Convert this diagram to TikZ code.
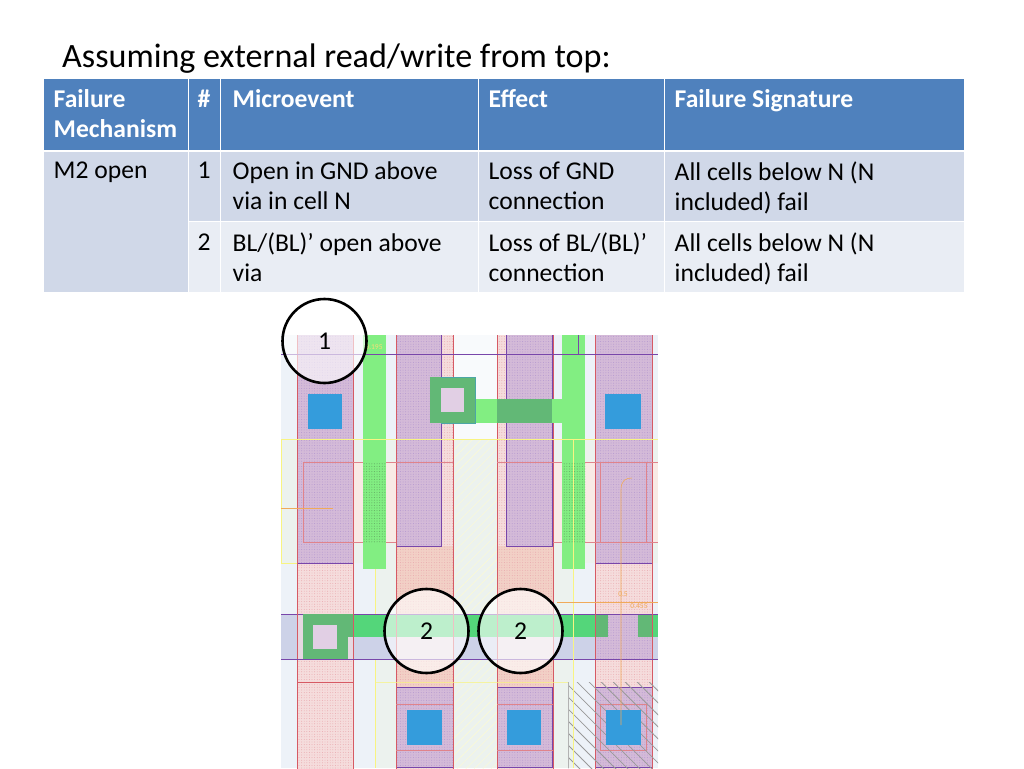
\documentclass[tikz,border=0pt]{standalone}
\usepackage{fontspec}
\setmainfont{Carlito}
\usepackage{xcolor}
\definecolor{tblhead}{RGB}{79, 129, 189}
\definecolor{tblodd}{RGB}{208, 216, 232}
\definecolor{tbleven}{RGB}{233, 237, 244}
\definecolor{cellbg}{RGB}{237, 242, 248}
\definecolor{wellbg}{RGB}{236, 242, 238}
\definecolor{metalpurple}{RGB}{212, 186, 216}
\definecolor{polypink}{RGB}{245, 220, 220}
\definecolor{activeorange}{RGB}{242, 208, 198}
\definecolor{bandblue}{RGB}{205, 210, 232}
\definecolor{wiregreen}{RGB}{130, 238, 130}
\definecolor{bandgreen}{RGB}{84, 214, 122}
\definecolor{viagreen}{RGB}{98, 184, 118}
\definecolor{contactblue}{RGB}{52, 156, 220}
\definecolor{edgered}{RGB}{214, 90, 100}
\definecolor{edgepurple}{RGB}{120, 70, 170}
\definecolor{dimorange}{RGB}{240, 170, 90}
\definecolor{marklemon}{RGB}{248, 244, 130}
\usepackage{tikz}
\usetikzlibrary{
    patterns.meta,
    positioning
}

\begin{document}
\begin{tikzpicture}[
    x=1pt, y=-1pt,
    cellbox/.style={
        rectangle, draw=white, line width=1.2pt, inner sep=0pt,
        anchor=north west
    },
    headbox/.style={cellbox, fill=tblhead},
    oddbox/.style={cellbox, fill=tblodd},
    evenbox/.style={cellbox, fill=tbleven},
    cellpad/.style={anchor=north west, inner sep=0pt, align=left,
        font=\fontsize{25.6}{30}\selectfont, execute at begin node=\strut},
    headpad/.style={cellpad, text=white, font=\fontsize{25.6}{30}\selectfont\bfseries},
    marker/.style={circle, draw=black, line width=2.6pt, fill=white, fill opacity=0.62,
        text opacity=1, minimum size=84pt, inner sep=0pt, font=\fontsize{25.6}{30}\selectfont},
    metaldots/.style={pattern={Dots[distance=2.6pt,radius=0.5pt]}, pattern color=edgepurple!55},
    polydots/.style={pattern={Dots[distance=2.6pt,radius=0.45pt]}, pattern color=edgered!55},
    wiredots/.style={pattern={Dots[distance=2.6pt,radius=0.55pt]}, pattern color=green!50!black!60},
    contact/.style={fill=contactblue},
    wire/.style={fill=wiregreen},
    viabox/.style={fill=viagreen},
    viahole/.style={fill=metalpurple!70!white},
    thinred/.style={draw=edgered!75, line width=0.5pt},
    dimline/.style={draw=dimorange, line width=0.6pt},
    lemon/.style={draw=marklemon, line width=0.7pt},
    dimtext/.style={inner sep=0pt, text=dimorange, font=\fontsize{7.5}{8}\selectfont}
]
    \useasboundingbox (0,0) rectangle (1024,768);
    \fill[white] (0,0) rectangle (1024,768);

    % Title
    \node[anchor=base west, inner sep=0pt, font=\fontsize{34.1}{40}\selectfont] (title) at (62,67) {Assuming external read/write from top:};

    % Table
    \foreach \x/\w/\n in {43/144.5/mech,187.5/32.5/num,220/257.5/micro,477.5/186.5/effect,664/300/sign} {
        \node[headbox, minimum width=\w pt, minimum height=71.5pt] (head\n) at (\x,78) {};
    }
    \node[oddbox, minimum width=144.5pt, minimum height=142pt] (mech) at (43,150) {};
    \foreach \x/\w/\n in {187.5/32.5/num,220/257.5/micro,477.5/186.5/effect,664/300/sign} {
        \node[oddbox, minimum width=\w pt, minimum height=71pt] (odd\n) at (\x,150) {};
        \node[evenbox, minimum width=\w pt, minimum height=71pt] (even\n) at (\x,221) {};
    }
    \draw[white, line width=2pt] (headmech.south west) -- (headsign.south east);
    \node[headpad] at (53.5,89.6) {Failure\\Mechanism};
    \node[headpad] at (197.5,86.6) {\#};
    \node[headpad] at (232.5,86.6) {Microevent};
    \node[headpad] at (488.5,86.6) {Effect};
    \node[headpad] at (674.5,86.6) {Failure Signature};

    \node[cellpad] at (53.5,157.6) {M2 open};
    \node[cellpad] at (197.5,157.6) {1};
    \node[cellpad] at (232.5,161.6) {Open in GND above\\via in cell N};
    \node[cellpad] at (488.5,161.6) {Loss of GND\\connection};
    \node[cellpad] at (674.5,161.6) {All cells below N (N\\included) fail};
    \node[cellpad] at (197.5,229.6) {2};
    \node[cellpad] at (232.5,232.6) {BL/(BL)’ open above\\via};
    \node[cellpad] at (488.5,232.6) {Loss of BL/(BL)’\\connection};
    \node[cellpad] at (674.5,232.6) {All cells below N (N\\included) fail};

    % Layout
    \begin{scope}
    \clip (281,335) rectangle (658,768);

    % Background
    \fill[cellbg] (281,335) rectangle (658,768);
    \fill[wellbg] (281,439) rectangle (658,563);
    \fill[wellbg] (375,563) rectangle (573,768);
    \fill[pattern={Lines[angle=45,distance=6pt,line width=0.4pt]}, pattern color=marklemon!35] (453,439) rectangle (497,768);
    \fill[white!60!cellbg] (453,335) rectangle (497,439);
    \fill[activeorange!45!white] (353,462) rectangle (396,542);
    \fill[activeorange!45!white] (553,462) rectangle (658,542);
    \draw[lemon] (281,439) -- (281,563) -- (297,563);
    \draw[lemon] (375,569) -- (375,768);

    % Poly columns
    \foreach \xa/\xb in {297/353,396/453,497/553,595/652} {
        \fill[polypink] (\xa,330) rectangle (\xb,770);
        \fill[polydots] (\xa,330) rectangle (\xb,770);
    }
    \fill[activeorange] (396,546) rectangle (453,687);
    \fill[activeorange] (497,546) rectangle (553,687);
    \fill[polydots] (396,546) rectangle (453,687);
    \fill[polydots] (497,546) rectangle (553,687);

    % Metal columns
    \foreach \xa/\xb/\ya/\yb in {297/353/330/563,396/441/330/546,506/552/330/546,595/652/330/563,396/453/687/767,497/552/687/767,595/652/687/767} {
        \fill[metalpurple] (\xa,\ya) rectangle (\xb,\yb);
        \fill[metaldots] (\xa,\ya) rectangle (\xb,\yb);
        \draw[edgepurple, line width=0.5pt] (\xa,\ya) rectangle (\xb,\yb);
    }
    \foreach \xa/\xb in {297/353,396/453,497/553,595/652} {
        \draw[edgered, line width=0.7pt] (\xa,330) -- (\xa,770) (\xb,330) -- (\xb,770);
    }
    \draw[edgered, line width=0.7pt] (297,682) -- (353,682);
    \draw[thinred] (453,462) -- (303,462) -- (303,542) -- (396,542);
    \draw[thinred] (497,462) -- (658,462) (553,542) -- (658,542);
    \draw[thinred] (600,462) -- (600,542) (646,462) -- (646,542);
    \draw[thinred] (396,704) -- (453,704) (396,750) -- (453,750);
    \draw[thinred] (497,704) -- (553,704) (497,750) -- (553,750);
    \draw[thinred] (600,704) rectangle (646,750);

    % Hatched corner
    \fill[pattern={Lines[angle=-45,distance=8.5pt,line width=0.8pt,xshift=2pt]}, pattern color=gray!80] (568,682) rectangle (658,768);
    \draw[gray!60, line width=0.5pt] (568,682) -- (568,768);

    % Wires
    \foreach \xa/\xb in {363/386,562/585} {
        \fill[wire] (\xa,330) rectangle (\xb,569);
        \fill[wiredots] (\xa,462) rectangle (\xb,542);
    }
    \fill[wire] (475,399) rectangle (562,423);
    \fill[viagreen] (497,399) rectangle (552,423);
    \draw[edgepurple, line width=0.5pt] (578,335) -- (578,354);

    % Upper via
    \fill[viabox] (430,377) rectangle (475,423);
    \draw[teal!70, line width=0.6pt] (441,377) -- (475,377) -- (475,423) -- (441,423);
    \fill[viahole] (441,388) rectangle (464,412);

    % Horizontal band
    \fill[bandblue] (281,614) rectangle (658,659);
    \foreach \xa/\xb in {297/353,396/453,497/553} {
        \fill[polypink!60!bandblue] (\xa,614) rectangle (\xb,659);
    }
    \fill[metalpurple] (595,614) rectangle (652,659);
    \fill[metaldots] (595,614) rectangle (652,659);
    \fill[bandgreen] (353,614) rectangle (595,637);
    \fill[viagreen] (595,614) rectangle (608,637);
    \fill[viagreen] (638,614) rectangle (652,637);
    \fill[bandgreen] (652,614) rectangle (658,637);
    \draw[edgepurple, line width=0.6pt] (281,614) -- (658,614) (281,659) -- (658,659);
    \foreach \xa/\xb in {297/353,396/453,497/553,595/652} {
        \draw[edgered, line width=0.7pt] (\xa,614) -- (\xa,659) (\xb,614) -- (\xb,659);
    }

    % Lower via
    \fill[viabox] (303,614) rectangle (348,659);
    \fill[viabox] (348,614) rectangle (353,637);
    \fill[viahole] (313,625) rectangle (337,649);

    % Contacts
    \foreach \xa/\xb/\ya/\yb in {308/342/394/429,605/641/394/429,407/442/710/745,507/541/710/745,606/641/710/745} {
        \fill[contact] (\xa,\ya) rectangle (\xb,\yb);
    }

    % Yellow and purple guide lines
    \draw[lemon] (281,439) -- (658,439);
    \draw[lemon] (573,439) -- (573,768);
    \draw[lemon, opacity=0.7] (375,682) -- (568,682);
    \draw[edgepurple, line width=0.6pt] (281,354) -- (658,354);

    % Dimensions
    \draw[dimline] (281,508) -- (333,508);
    \draw[dimline] (621,725) -- (621,490) .. controls (621,480) and (626,478) .. (632,478);
    \draw[dimline] (557,602) -- (658,602);
    \node[dimtext, text=marklemon!70!dimorange] (dimtop) at (374,347) {0.195};
    \node[dimtext] (dimmid) at (623,594) {0.5};
    \node[dimtext] (dimlow) at (639,606) {0.455};
    \end{scope}

    % Markers
    \node[marker] (mark1) at (324.5,341) {1};
    \node[marker] (mark2a) at (426.5,631) {2};
    \node[marker] (mark2b) at (520.5,631) {2};
\end{tikzpicture}
\end{document}
